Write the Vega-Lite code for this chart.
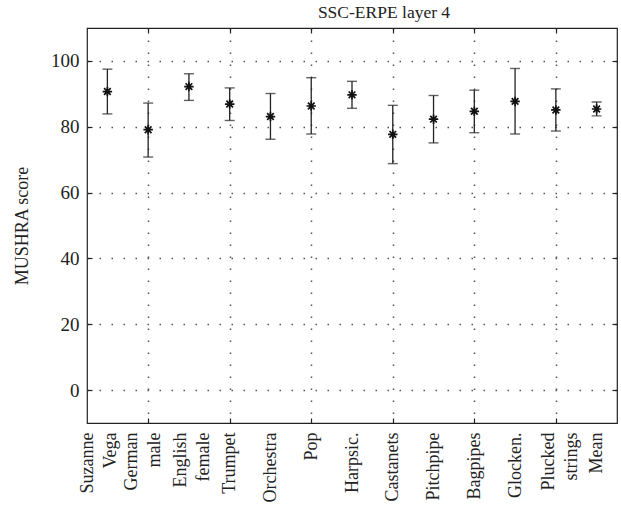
{
  "$schema": "https://vega.github.io/schema/vega-lite/v6.json",
  "width": 530,
  "height": 395,
  "autosize": {"type": "none"},
  "padding": {"left": 87, "top": 28, "right": 4, "bottom": 95},
  "background": "white",
  "config": {
    "font": "Liberation Serif",
    "view": {"stroke": "#222", "strokeWidth": 1.2},
    "axis": {"domain": false, "labelFont": "Liberation Serif", "titleFont": "Liberation Serif", "labelColor": "#222", "titleColor": "#222", "titleFontWeight": "normal"}
  },
  "title": {"text": "SSC-ERPE layer 4", "font": "Liberation Serif", "fontSize": 17.5, "fontWeight": "normal", "color": "#222", "offset": 6, "dx": 32},
  "data": {"values": [
    {"name": "Suzanne Vega", "idx": 1, "mean": 90.7, "lo": 83.9, "hi": 97.5},
    {"name": "German male", "idx": 2, "mean": 79.1, "lo": 70.8, "hi": 87.2},
    {"name": "English female", "idx": 3, "mean": 92.2, "lo": 88.0, "hi": 96.1},
    {"name": "Trumpet", "idx": 4, "mean": 86.9, "lo": 81.9, "hi": 91.8},
    {"name": "Orchestra", "idx": 5, "mean": 83.1, "lo": 76.2, "hi": 90.1},
    {"name": "Pop", "idx": 6, "mean": 86.3, "lo": 77.8, "hi": 94.9},
    {"name": "Harpsic.", "idx": 7, "mean": 89.7, "lo": 85.6, "hi": 93.8},
    {"name": "Castanets", "idx": 8, "mean": 77.7, "lo": 68.8, "hi": 86.5},
    {"name": "Pitchpipe", "idx": 9, "mean": 82.3, "lo": 75.1, "hi": 89.5},
    {"name": "Bagpipes", "idx": 10, "mean": 84.7, "lo": 78.2, "hi": 91.1},
    {"name": "Glocken.", "idx": 11, "mean": 87.7, "lo": 77.8, "hi": 97.7},
    {"name": "Plucked strings", "idx": 12, "mean": 85.1, "lo": 78.7, "hi": 91.5},
    {"name": "Mean", "idx": 13, "mean": 85.4, "lo": 83.3, "hi": 87.5}
  ]},
  "resolve": {"axis": {"x": "independent", "y": "independent"}},
  "layer": [
    {
      "layer": [
        {
          "mark": {"type": "rule", "color": "#222", "strokeWidth": 1.3},
          "encoding": {
            "x": {"field": "idx", "type": "quantitative", "scale": {"domain": [0.5, 13.5], "nice": false, "zero": false},
              "axis": {"orient": "bottom", "title": null, "values": [1,2,3,4,5,6,7,8,9,10,11,12,13],
                "labelExpr": "[[''],['Suzanne','Vega'],['German','male'],['English','female'],['Trumpet'],['Orchestra'],['Pop'],['Harpsic.'],['Castanets'],['Pitchpipe'],['Bagpipes'],['Glocken.'],['Plucked','strings'],['Mean']][datum.value]",
                "labelAngle": -90, "labelFontSize": 18, "labelLineHeight": 23, "labelPadding": 14, "labelAlign": "right", "labelBaseline": "middle",
                "labelOffset": {"condition": [
                  {"test": "datum.value == 1", "value": -20},
                  {"test": "datum.value == 2", "value": -17},
                  {"test": "datum.value == 3", "value": -8},
                  {"test": "datum.value == 12", "value": -7}
                ], "value": 0},
                "labelOverlap": false, "labelBound": false, "labelFlush": false,
                "tickSize": -5, "tickWidth": 1.2,
                "tickColor": {"condition": {"test": "datum.value % 2 == 0", "value": "#222"}, "value": "transparent"},
                "grid": true, "gridWidth": 1.5, "gridDash": [1.5, 10.5],
                "gridColor": {"condition": {"test": "datum.value % 2 == 0", "value": "#555"}, "value": "transparent"}}},
            "y": {"field": "lo", "type": "quantitative", "scale": {"domain": [-10, 110], "nice": false, "zero": false},
              "axis": {"orient": "left", "title": "MUSHRA score", "titleFontSize": 18, "titlePadding": 19, "values": [0,20,40,60,80,100],
                "labelFontSize": 19, "labelPadding": 13, "tickSize": -5, "tickWidth": 1.2, "tickColor": "#222",
                "grid": true, "gridWidth": 1.5, "gridDash": [1.5, 10.5], "gridColor": "#555"}},
            "y2": {"field": "hi"}
          }
        },
        {
          "mark": {"type": "tick", "orient": "horizontal", "color": "#222", "size": 10, "thickness": 1.4},
          "encoding": {"x": {"field": "idx", "type": "quantitative"}, "y": {"field": "hi", "type": "quantitative"}}
        },
        {
          "mark": {"type": "tick", "orient": "horizontal", "color": "#222", "size": 10, "thickness": 1.4},
          "encoding": {"x": {"field": "idx", "type": "quantitative"}, "y": {"field": "lo", "type": "quantitative"}}
        },
        {
          "mark": {"type": "point", "filled": false, "stroke": "#111", "strokeWidth": 1.7, "size": 90, "opacity": 1,
            "shape": "M-1,0L1,0M0,-1L0,1M-0.7,-0.7L0.7,0.7M-0.7,0.7L0.7,-0.7"},
          "encoding": {"x": {"field": "idx", "type": "quantitative"}, "y": {"field": "mean", "type": "quantitative"}}
        }
      ]
    },
    {
      "mark": {"type": "point", "opacity": 0},
      "encoding": {
        "x": {"field": "idx", "type": "quantitative", "scale": {"domain": [0.5, 13.5], "nice": false, "zero": false},
          "axis": {"orient": "top", "title": null, "values": [2,4,6,8,10,12], "labels": false, "tickSize": -5, "tickWidth": 1.2, "tickColor": "#222", "grid": false}},
        "y": {"field": "mean", "type": "quantitative", "scale": {"domain": [-10, 110], "nice": false, "zero": false},
          "axis": {"orient": "right", "title": null, "values": [0,20,40,60,80,100], "labels": false, "tickSize": -5, "tickWidth": 1.2, "tickColor": "#222", "grid": false}}
      }
    }
  ]
}
